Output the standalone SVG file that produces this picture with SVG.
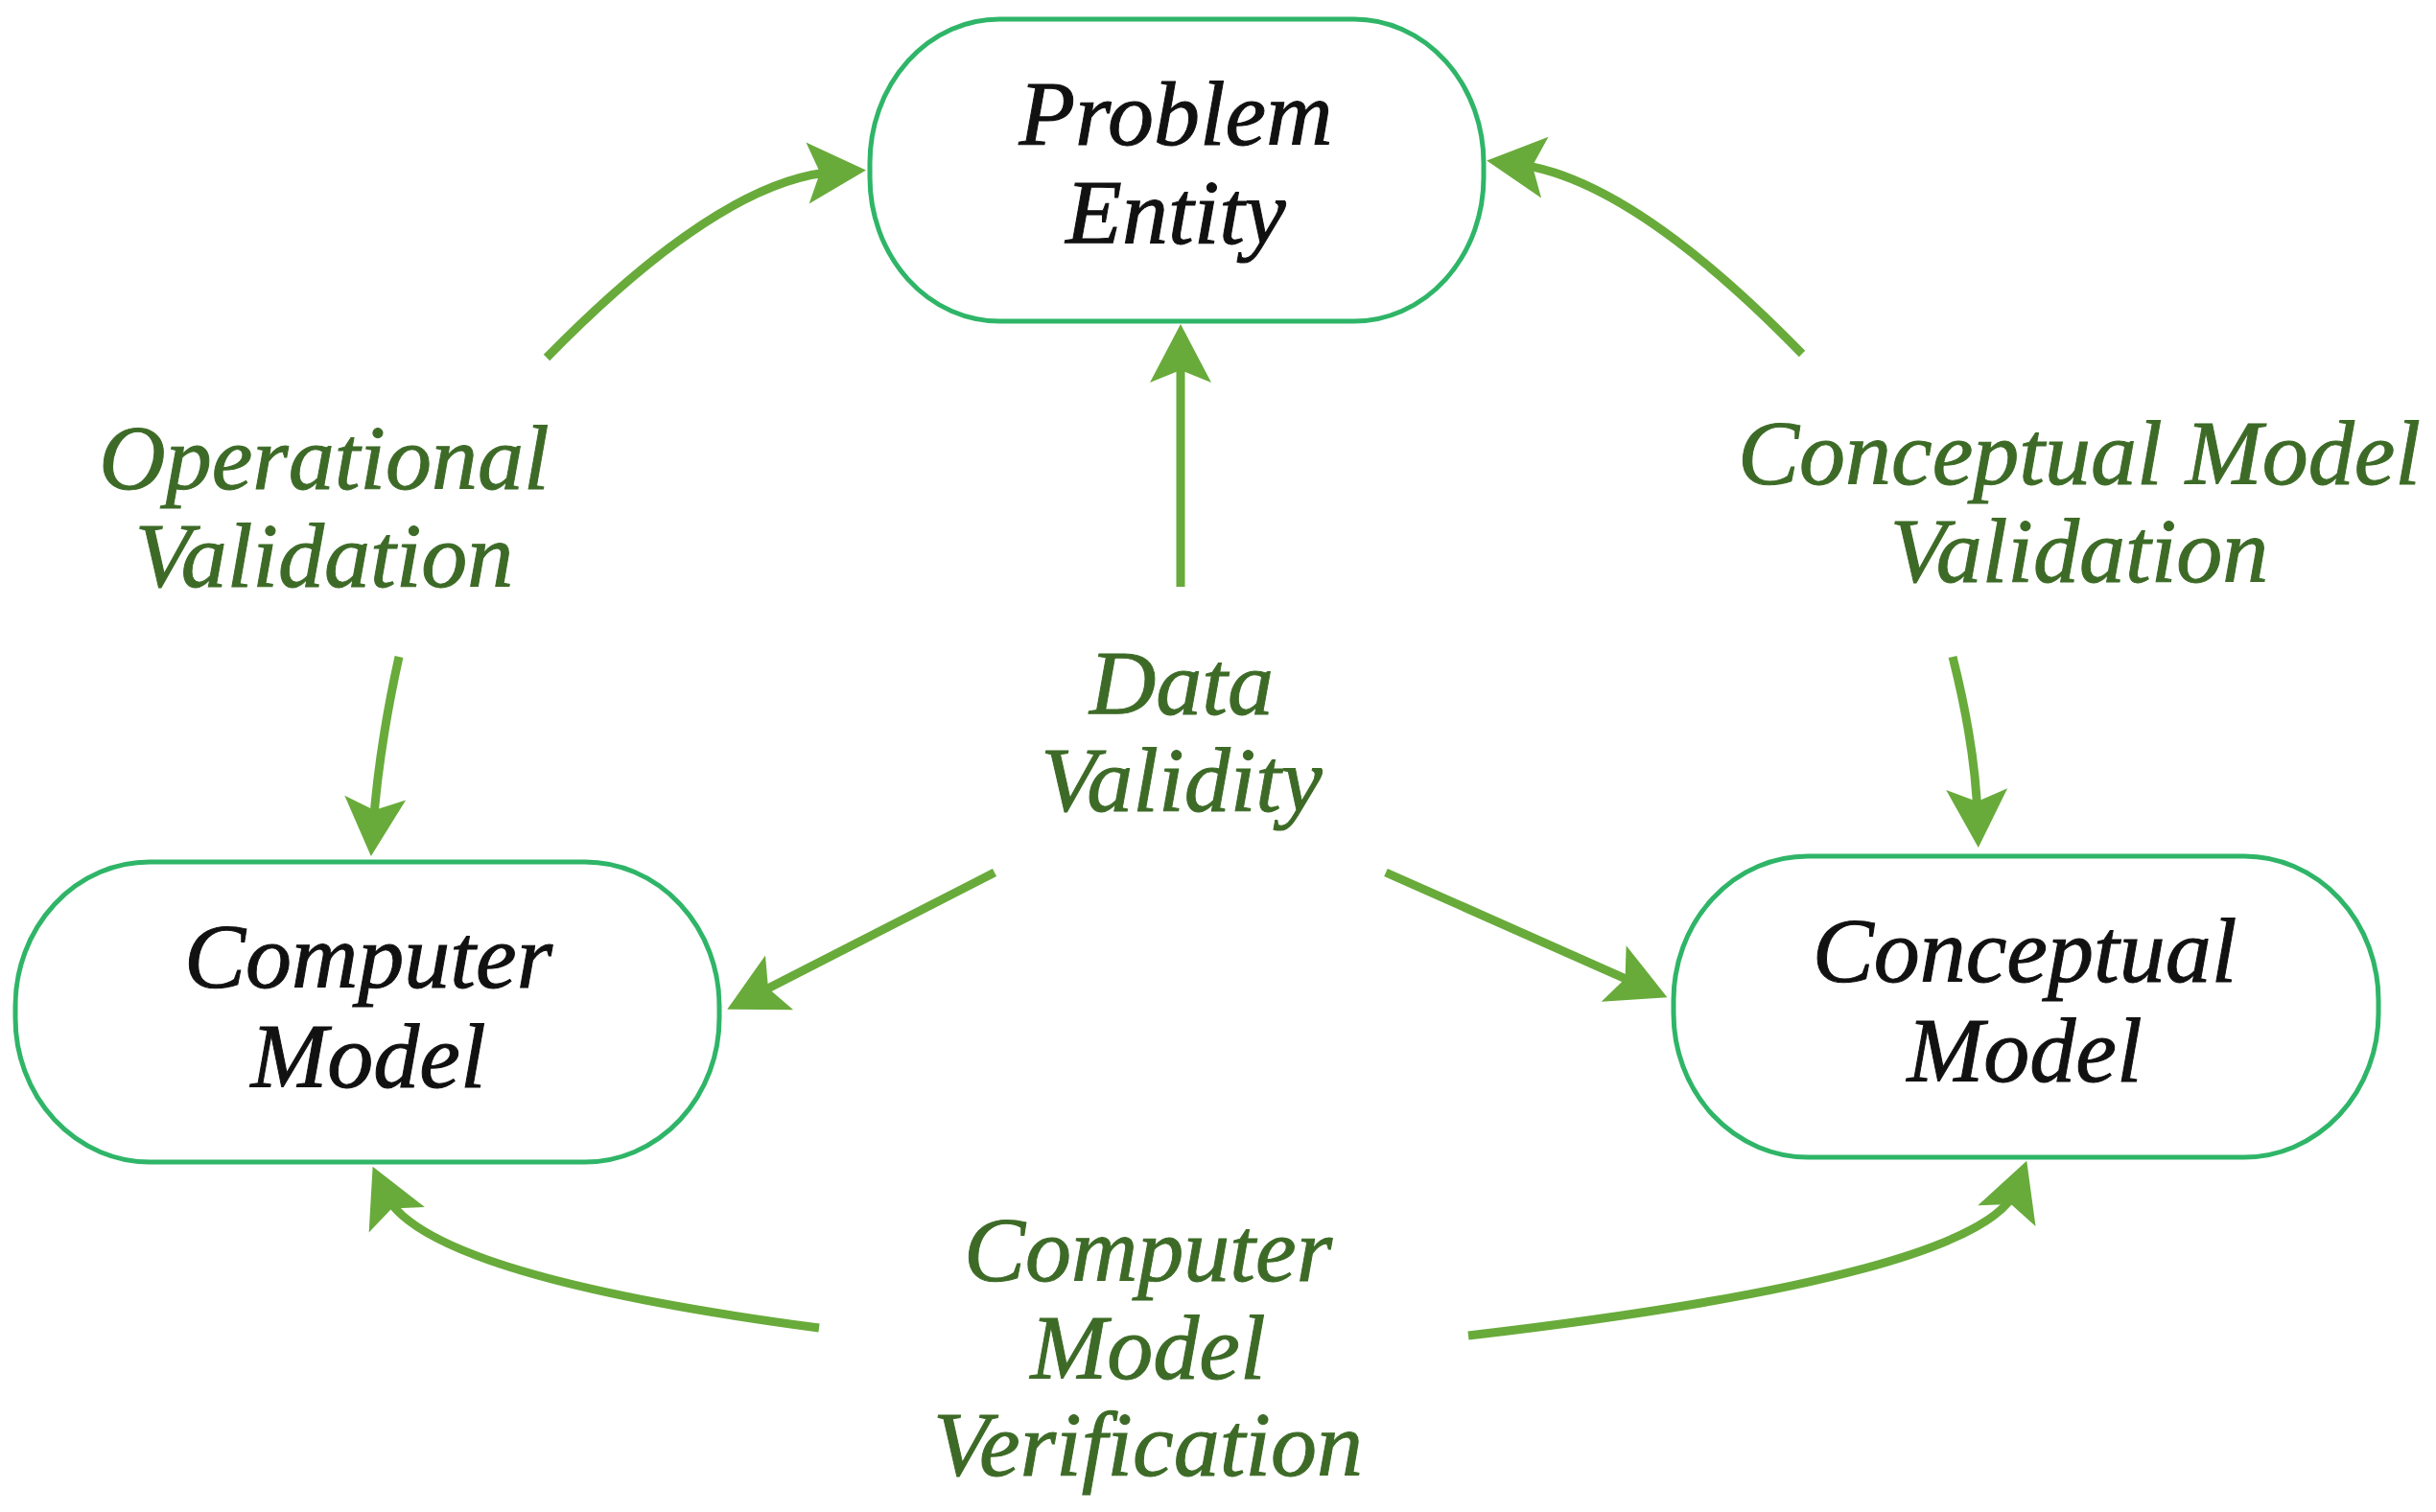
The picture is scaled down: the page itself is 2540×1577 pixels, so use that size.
<svg xmlns="http://www.w3.org/2000/svg" width="2540" height="1577" viewBox="0 0 2540 1577">
<style>
.box{fill:#fff;stroke:#2fb568;stroke-width:5}
.nt{font-family:"Liberation Serif",serif;font-style:italic;font-size:96px;fill:#111;stroke:#111;stroke-width:1;text-anchor:middle}
.lt{font-family:"Liberation Serif",serif;font-style:italic;font-size:96px;fill:#3d6b27;stroke:#3d6b27;stroke-width:1;text-anchor:middle}
.con{fill:none;stroke:#68ab3b;stroke-width:9;marker-end:url(#ah)}
</style>
<defs>
<marker id="ah" markerUnits="userSpaceOnUse" markerWidth="80" markerHeight="80" viewBox="-40 -40 80 80" refX="0" refY="0" orient="auto" overflow="visible">
<path d="M30,0 L-31,-32 L-18,0 L-31,32 Z" fill="#68ab3b"/>
</marker>
</defs>
<rect width="2540" height="1577" fill="#fff"/>
<g id="connectors">
<path class="con" d="M570,373 Q754,185 873,179"/>
<path class="con" d="M416,685 Q395,780 389,863"/>
<path class="con" d="M1231,612 L1231,368"/>
<path class="con" d="M1037,910 L785,1039"/>
<path class="con" d="M1445,910 L1711,1028"/>
<path class="con" d="M1879,369 Q1700,185 1580,171"/>
<path class="con" d="M2036,685 Q2060,780 2062,854"/>
<path class="con" d="M854,1385 Q440,1330 401,1244"/>
<path class="con" d="M1531,1393 Q2070,1330 2103,1239"/>
</g>
<g id="problem-entity">
<rect class="box" x="907" y="20" width="640" height="315" rx="135" ry="150"/>
<text class="nt" x="1226" y="151">Problem</text>
<text class="nt" x="1226" y="254">Entity</text>
</g>
<g id="computer-model">
<rect class="box" x="16" y="899" width="734" height="313" rx="140" ry="150"/>
<text class="nt" x="384" y="1030">Computer</text>
<text class="nt" x="384" y="1134">Model</text>
</g>
<g id="conceptual-model">
<rect class="box" x="1745" y="893" width="735" height="314" rx="140" ry="150"/>
<text class="nt" x="2111" y="1024">Conceptual</text>
<text class="nt" x="2111" y="1128">Model</text>
</g>
<g id="labels">
<text class="lt" x="338" y="510">Operational</text>
<text class="lt" x="338" y="612">Validation</text>
<text class="lt" x="2168" y="505">Conceptual Model</text>
<text class="lt" x="2168" y="607">Validation</text>
<text class="lt" x="1232" y="745">Data</text>
<text class="lt" x="1232" y="846">Validity</text>
<text class="lt" x="1197" y="1336">Computer</text>
<text class="lt" x="1197" y="1438">Model</text>
<text class="lt" x="1197" y="1539">Verification</text>
</g>
</svg>
